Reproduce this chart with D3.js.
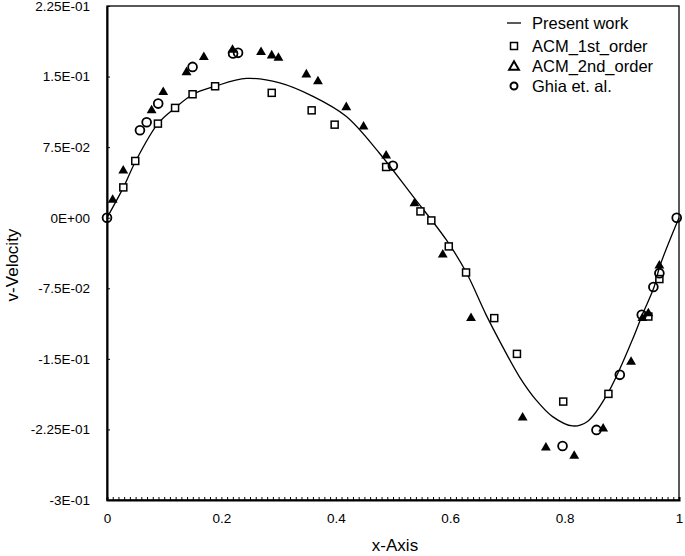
<!DOCTYPE html>
<html><head><meta charset="utf-8">
<script src="https://cdn.jsdelivr.net/npm/d3@7"></script>
<style>body{margin:0;background:#fff}svg{display:block}text{font-family:"Liberation Sans",Arial,sans-serif;fill:#000}</style>
</head><body><svg id="c" width="685" height="556"></svg>
<script>
// Present work (solid line)
const presentX = [0,0.0285,0.05,0.089,0.119,0.15,0.189,0.244,0.302,0.36,0.418,0.476,0.535,0.593,0.628,0.6626,0.6916,0.7208,0.75,0.779,0.814,0.84,0.875,0.9185,0.936,0.9564,0.9663,1];
const presentY = [0,0.032,0.060,0.100,0.1167,0.131,0.1397,0.148,0.1433,0.129,0.1078,0.0688,0.0227,-0.0234,-0.058,-0.103,-0.137,-0.1688,-0.1936,-0.2114,-0.2213,-0.2165,-0.1872,-0.1298,-0.103,-0.0737,-0.0518,0];
// ACM_1st_order (open squares)
const acm1X = [0.0285,0.0494,0.089,0.119,0.1496,0.189,0.288,0.3578,0.398,0.488,0.548,0.567,0.5975,0.6277,0.677,0.7167,0.7976,0.8766,0.9464,0.9657];
const acm1Y = [0.0322,0.0603,0.100,0.1167,0.1312,0.1397,0.1327,0.1141,0.0989,0.0539,0.0067,-0.0029,-0.0305,-0.0582,-0.1067,-0.1447,-0.1954,-0.1872,-0.105,-0.0652];
// ACM_2nd_order (filled triangles)
const acm2X = [0.0099,0.0284,0.078,0.0983,0.139,0.1693,0.2194,0.2693,0.288,0.2997,0.3485,0.3688,0.4183,0.4485,0.488,0.5375,0.587,0.6364,0.7266,0.7673,0.8168,0.8674,0.9162,0.936,0.9464,0.9657];
const acm2Y = [0.0199,0.0511,0.115,0.1344,0.1556,0.1716,0.1795,0.1769,0.1734,0.171,0.1532,0.146,0.1184,0.0979,0.067,0.0163,-0.0383,-0.1056,-0.2114,-0.2433,-0.2521,-0.2231,-0.1521,-0.1056,-0.1007,-0.05];
// Ghia et. al. (open circles)
const ghiaX = [0,0.0576,0.0693,0.0895,0.1496,0.2204,0.2291,0.4997,0.7964,0.8557,0.8965,0.9349,0.9552,0.9657,0.996];
const ghiaY = [0,0.0929,0.1014,0.1213,0.1603,0.1745,0.1752,0.0553,-0.2426,-0.2255,-0.167,-0.1032,-0.0737,-0.0589,0];

const yTickValues = [0.225,0.15,0.075,0,-0.075,-0.15,-0.225,-0.3];
const yTickLabels = ["2.25E-01","1.5E-01","7.5E-02","0E+00","-7.5E-02","-1.5E-01","-2.25E-01","-3E-01"];
const xTickValues = [0,0.2,0.4,0.6,0.8,1];
const xTickLabels = ["0","0.2","0.4","0.6","0.8","1"];
const legendLabels = ["Present work","ACM_1st_order","ACM_2nd_order","Ghia et. al."];

const svg = d3.select("#c");
const L=107,R=679,T=6,B=500;
const x = d3.scaleLinear().domain([0,1]).range([L,R]);
const y = d3.scaleLinear().domain([-0.3,0.225]).range([B,T]);

// frame
svg.append("rect").attr("x",L).attr("y",T).attr("width",R-L).attr("height",B-T)
  .attr("fill","none").attr("stroke","#000").attr("stroke-width",1.3);

// bottom axis minor ticks
const minor = d3.range(0,101).map(i=>i/100);
svg.append("g").attr("transform",`translate(0,${B})`)
  .call(d3.axisBottom(x).tickValues(minor).tickSize(-3).tickFormat(""))
  .call(g=>{g.select(".domain").attr("stroke-width",2);g.selectAll(".tick line").attr("stroke-width",1);});
// bottom labels
svg.append("g").attr("transform",`translate(0,${B})`)
  .call(d3.axisBottom(x).tickValues(xTickValues).tickSize(0).tickPadding(13).tickFormat((d,i)=>xTickLabels[i]))
  .call(g=>{g.select(".domain").remove();g.selectAll("text").attr("font-size",13.5).attr("font-family","Liberation Sans, Arial, sans-serif");});
// left axis
svg.append("g").attr("transform",`translate(${L},0)`)
  .call(d3.axisLeft(y).tickValues(yTickValues).tickSizeInner(-3).tickSizeOuter(0).tickPadding(17).tickFormat((d,i)=>yTickLabels[i]))
  .call(g=>{g.select(".domain").attr("stroke-width",2);g.selectAll("text").attr("font-size",13.5).attr("font-family","Liberation Sans, Arial, sans-serif");});

// axis titles
svg.append("text").attr("x",(L+R)/2+2).attr("y",551).attr("text-anchor","middle").attr("font-size",17).text("x-Axis");
svg.append("text").attr("transform","translate(18,265) rotate(-90)").attr("text-anchor","middle").attr("font-size",17).text("v-Velocity");

// curve
const pts = presentX.map((d,i)=>[d,presentY[i]]);
svg.append("path").datum(pts).attr("fill","none").attr("stroke","#000").attr("stroke-width",1.3)
  .attr("d",d3.line().x(d=>x(d[0])).y(d=>y(d[1])).curve(d3.curveCatmullRom.alpha(0.5)));

// markers
const sq=7, tri=d3.symbol().type(d3.symbolTriangle).size(42);
svg.append("g").selectAll("rect").data(acm1X.map((d,i)=>[d,acm1Y[i]])).join("rect")
  .attr("x",d=>x(d[0])-sq/2).attr("y",d=>y(d[1])-sq/2).attr("width",sq).attr("height",sq)
  .attr("fill","#fff").attr("stroke","#000").attr("stroke-width",1.5);
svg.append("g").selectAll("path").data(acm2X.map((d,i)=>[d,acm2Y[i]])).join("path")
  .attr("d",tri).attr("transform",d=>`translate(${x(d[0])},${y(d[1])+1})`).attr("fill","#000");
svg.append("g").selectAll("circle").data(ghiaX.map((d,i)=>[d,ghiaY[i]])).join("circle")
  .attr("cx",d=>x(d[0])).attr("cy",d=>y(d[1])).attr("r",4.4)
  .attr("fill","none").attr("stroke","#000").attr("stroke-width",1.8);

// legend
const lg = svg.append("g");
const rowsY=[23,46,66,86], symX=514, txtX=532;
lg.append("line").attr("x1",symX-7).attr("x2",symX+7).attr("y1",rowsY[0]).attr("y2",rowsY[0]).attr("stroke","#000").attr("stroke-width",1.3);
lg.append("rect").attr("x",symX-3.5).attr("y",rowsY[1]-3.5).attr("width",7).attr("height",7).attr("fill","#fff").attr("stroke","#000").attr("stroke-width",1.5);
lg.append("path").attr("d",tri).attr("transform",`translate(${symX},${rowsY[2]+1})`).attr("fill","none").attr("stroke","#000").attr("stroke-width",2);
lg.append("circle").attr("cx",symX).attr("cy",rowsY[3]).attr("r",3.5).attr("fill","none").attr("stroke","#000").attr("stroke-width",2);
lg.selectAll("text.l").data(legendLabels).join("text").attr("class","l")
  .attr("x",txtX).attr("y",(d,i)=>rowsY[i]+6).attr("font-size",16.5).text(d=>d);
</script></body></html>
